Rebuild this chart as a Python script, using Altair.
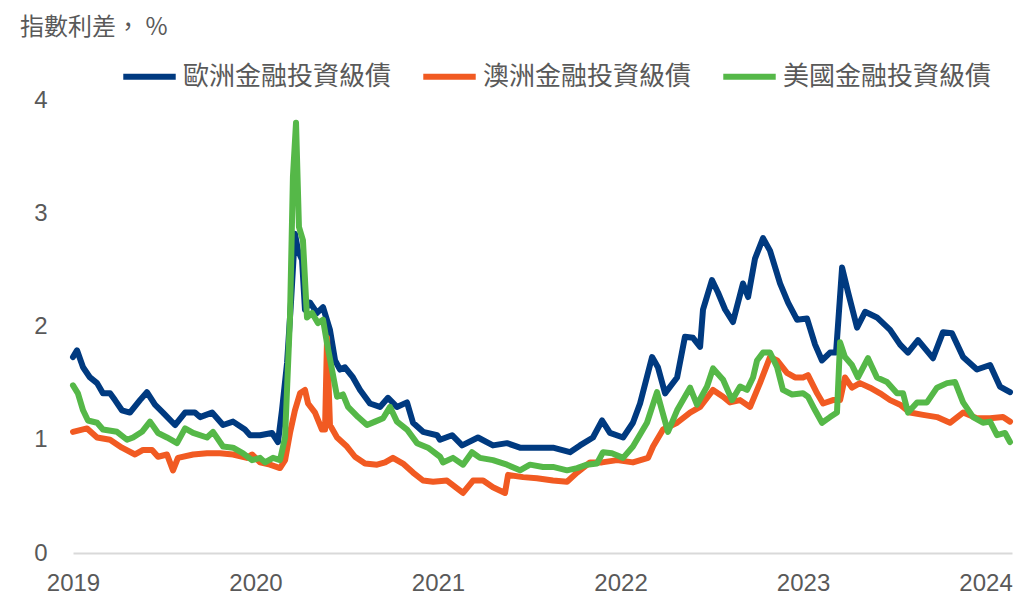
import altair as alt
import pandas as pd

# 歐洲金融投資級債 (decimal year, spread %)
eu_t = [2019.000, 2019.022, 2019.055, 2019.093, 2019.132, 2019.164, 2019.203, 2019.230, 2019.268, 2019.312,
        2019.367, 2019.405, 2019.449, 2019.493, 2019.559, 2019.614, 2019.668, 2019.696, 2019.762, 2019.822,
        2019.877, 2019.942, 2019.970, 2020.025, 2020.090, 2020.123, 2020.145, 2020.173, 2020.195, 2020.216,
        2020.233, 2020.255, 2020.271, 2020.299, 2020.337, 2020.370, 2020.408, 2020.436, 2020.463, 2020.490,
        2020.534, 2020.573, 2020.627, 2020.682, 2020.726, 2020.775, 2020.830, 2020.863, 2020.918, 2020.995,
        2021.011, 2021.077, 2021.132, 2021.219, 2021.301, 2021.378, 2021.449, 2021.542, 2021.630, 2021.723,
        2021.778, 2021.849, 2021.899, 2021.942, 2022.014, 2022.068, 2022.107, 2022.173, 2022.205, 2022.244,
        2022.310, 2022.353, 2022.397, 2022.436, 2022.452, 2022.501, 2022.534, 2022.573, 2022.616, 2022.671,
        2022.699, 2022.737, 2022.781, 2022.819, 2022.874, 2022.918, 2022.967, 2023.022, 2023.066, 2023.104,
        2023.148, 2023.181, 2023.214, 2023.247, 2023.274, 2023.296, 2023.340, 2023.405, 2023.477, 2023.532,
        2023.575, 2023.630, 2023.712, 2023.767, 2023.816, 2023.877, 2023.953, 2024.025, 2024.079, 2024.134]
eu_v = [1.73, 1.79, 1.64, 1.55, 1.50, 1.41, 1.41, 1.35, 1.26, 1.24,
        1.35, 1.42, 1.31, 1.24, 1.13, 1.24, 1.24, 1.20, 1.24, 1.13,
        1.16, 1.09, 1.04, 1.04, 1.06, 0.98, 1.26, 1.68, 2.23, 2.82,
        2.67, 2.59, 2.15, 2.21, 2.12, 2.17, 1.97, 1.70, 1.62, 1.64,
        1.55, 1.44, 1.32, 1.29, 1.37, 1.29, 1.33, 1.15, 1.07, 1.04,
        1.00, 1.04, 0.95, 1.02, 0.95, 0.97, 0.93, 0.93, 0.93, 0.89,
        0.95, 1.02, 1.17, 1.06, 1.02, 1.15, 1.32, 1.73, 1.64, 1.41,
        1.55, 1.91, 1.90, 1.82, 2.15, 2.41, 2.30, 2.15, 2.04, 2.38,
        2.26, 2.60, 2.78, 2.67, 2.38, 2.21, 2.06, 2.07, 1.84, 1.70,
        1.77, 1.77, 2.52, 2.30, 2.13, 1.99, 2.13, 2.08, 1.97, 1.84,
        1.77, 1.88, 1.72, 1.95, 1.94, 1.73, 1.62, 1.66, 1.47, 1.42]

# 澳洲金融投資級債
au_t = [2019.000, 2019.077, 2019.132, 2019.203, 2019.268, 2019.340, 2019.384, 2019.433, 2019.466, 2019.515,
        2019.548, 2019.575, 2019.658, 2019.734, 2019.805, 2019.877, 2019.953, 2019.981, 2020.025, 2020.079,
        2020.134, 2020.162, 2020.189, 2020.216, 2020.244, 2020.271, 2020.288, 2020.326, 2020.364, 2020.381,
        2020.392, 2020.408, 2020.447, 2020.501, 2020.545, 2020.600, 2020.666, 2020.710, 2020.753, 2020.808,
        2020.863, 2020.918, 2020.973, 2021.049, 2021.137, 2021.192, 2021.247, 2021.301, 2021.367, 2021.384,
        2021.466, 2021.542, 2021.630, 2021.707, 2021.762, 2021.833, 2021.899, 2021.981, 2022.068, 2022.151,
        2022.178, 2022.233, 2022.310, 2022.381, 2022.436, 2022.507, 2022.562, 2022.600, 2022.655, 2022.710,
        2022.764, 2022.819, 2022.858, 2022.912, 2022.956, 2023.000, 2023.027, 2023.077, 2023.110, 2023.164,
        2023.203, 2023.230, 2023.268, 2023.312, 2023.367, 2023.422, 2023.477, 2023.532, 2023.586, 2023.658,
        2023.734, 2023.805, 2023.877, 2023.953, 2024.025, 2024.096, 2024.134]
au_v = [1.07, 1.10, 1.02, 1.00, 0.93, 0.87, 0.91, 0.91, 0.85, 0.87,
        0.73, 0.84, 0.87, 0.88, 0.88, 0.87, 0.84, 0.87, 0.80, 0.78,
        0.75, 0.82, 1.06, 1.26, 1.41, 1.44, 1.32, 1.24, 1.09, 1.09,
        1.90, 1.13, 1.02, 0.94, 0.85, 0.79, 0.78, 0.80, 0.84, 0.79,
        0.71, 0.64, 0.63, 0.64, 0.53, 0.64, 0.64, 0.58, 0.53, 0.69,
        0.67, 0.66, 0.64, 0.63, 0.71, 0.80, 0.80, 0.82, 0.80, 0.84,
        0.94, 1.09, 1.15, 1.24, 1.29, 1.44, 1.38, 1.33, 1.35, 1.29,
        1.50, 1.73, 1.70, 1.59, 1.55, 1.55, 1.57, 1.41, 1.32, 1.35,
        1.35, 1.55, 1.46, 1.50, 1.46, 1.41, 1.35, 1.31, 1.24, 1.22,
        1.20, 1.15, 1.24, 1.19, 1.19, 1.20, 1.16]

# 美國金融投資級債
us_t = [2019.000, 2019.027, 2019.055, 2019.082, 2019.132, 2019.164, 2019.241, 2019.296, 2019.329, 2019.378,
        2019.422, 2019.466, 2019.515, 2019.570, 2019.614, 2019.658, 2019.734, 2019.767, 2019.822, 2019.877,
        2019.932, 2019.981, 2020.025, 2020.052, 2020.096, 2020.134, 2020.162, 2020.189, 2020.205, 2020.222,
        2020.238, 2020.260, 2020.282, 2020.310, 2020.342, 2020.370, 2020.392, 2020.419, 2020.447, 2020.479,
        2020.507, 2020.562, 2020.611, 2020.655, 2020.699, 2020.737, 2020.775, 2020.830, 2020.885, 2020.945,
        2021.011, 2021.027, 2021.082, 2021.137, 2021.186, 2021.230, 2021.301, 2021.378, 2021.449, 2021.504,
        2021.575, 2021.630, 2021.707, 2021.762, 2021.816, 2021.871, 2021.904, 2021.953, 2022.014, 2022.068,
        2022.145, 2022.200, 2022.227, 2022.260, 2022.310, 2022.381, 2022.419, 2022.474, 2022.507, 2022.562,
        2022.611, 2022.655, 2022.693, 2022.726, 2022.748, 2022.781, 2022.819, 2022.858, 2022.890, 2022.940,
        2023.000, 2023.027, 2023.066, 2023.104, 2023.148, 2023.186, 2023.203, 2023.230, 2023.268, 2023.301,
        2023.356, 2023.405, 2023.460, 2023.515, 2023.548, 2023.575, 2023.625, 2023.679, 2023.734, 2023.789,
        2023.833, 2023.877, 2023.932, 2023.986, 2024.025, 2024.063, 2024.107, 2024.134]
us_v = [1.48, 1.41, 1.26, 1.17, 1.15, 1.09, 1.07, 1.00, 1.02, 1.07,
        1.16, 1.06, 1.02, 0.97, 1.10, 1.06, 1.02, 1.07, 0.94, 0.93,
        0.88, 0.82, 0.84, 0.80, 0.84, 0.82, 1.02, 2.08, 3.32, 3.80,
        2.88, 2.76, 2.08, 2.12, 2.03, 2.06, 1.85, 1.62, 1.38, 1.40,
        1.29, 1.20, 1.13, 1.16, 1.19, 1.29, 1.16, 1.09, 0.97, 0.93,
        0.85, 0.80, 0.84, 0.78, 0.89, 0.84, 0.82, 0.78, 0.73, 0.78,
        0.76, 0.76, 0.73, 0.75, 0.78, 0.79, 0.89, 0.88, 0.84, 0.94,
        1.15, 1.42, 1.26, 1.07, 1.26, 1.46, 1.31, 1.47, 1.63, 1.53,
        1.35, 1.47, 1.44, 1.55, 1.70, 1.77, 1.77, 1.64, 1.44, 1.40,
        1.41, 1.38, 1.26, 1.15, 1.20, 1.24, 1.86, 1.73, 1.66, 1.55,
        1.72, 1.55, 1.51, 1.41, 1.41, 1.24, 1.33, 1.33, 1.46, 1.50,
        1.51, 1.33, 1.20, 1.15, 1.16, 1.04, 1.06, 0.98]

names = ["歐洲金融投資級債", "澳洲金融投資級債", "美國金融投資級債"]
colors = ["#003A80", "#F15A22", "#55B848"]
year_ticks = [2019, 2020, 2021, 2022, 2023, 2024]
y_ticks = [0, 1, 2, 3, 4]

rows = []
for i, (name, ts, vs) in enumerate(zip(names, [eu_t, au_t, us_t], [eu_v, au_v, us_v])):
    for t, v in zip(ts, vs):
        rows.append({"series": name, "idx": i, "t": t, "v": v})
df = pd.DataFrame(rows)

label_color = "#595959"

chart = alt.Chart(df).mark_line(
    strokeWidth=6, strokeCap="round", strokeJoin="round"
).encode(
    x=alt.X("t:Q",
            scale=alt.Scale(domain=[2019, 2024.145], nice=False, zero=False),
            axis=alt.Axis(values=year_ticks, format="d", title=None, ticks=False, grid=False,
                          domainColor="#d9d9d9", domainWidth=2,
                          labelFont="Liberation Sans", labelFontSize=24, labelColor=label_color,
                          labelPadding=18, labelFlush=False)),
    y=alt.Y("v:Q",
            scale=alt.Scale(domain=[0, 4], nice=False),
            axis=alt.Axis(values=y_ticks, title=None, ticks=False, grid=False, domain=False,
                          labelFont="Liberation Sans", labelFontSize=24, labelColor=label_color,
                          labelPadding=26)),
    color=alt.Color("series:N",
                    scale=alt.Scale(domain=names, range=colors),
                    legend=alt.Legend(orient="none", legendX=47, legendY=-53,
                                      direction="horizontal", title=None,
                                      symbolType="stroke", symbolSize=2750, symbolStrokeWidth=6,
                                      labelFont="Noto Sans CJK TC", labelFontSize=26,
                                      labelColor=label_color, labelOffset=4, labelLimit=400,
                                      columnPadding=19)),
    detail="idx:O",
).properties(
    width=939,
    height=453,
    title=alt.TitleParams("指數利差， %", anchor="start", frame="group", dx=-53, offset=7,
                          font="Noto Sans CJK TC", fontSize=24, fontWeight="normal",
                          color=label_color),
    autosize=alt.AutoSizeParams(type="none"),
    padding={"left": 73, "top": 100, "right": 6, "bottom": 44},
).configure_view(stroke=None)

chart.save("out.html", embed_options={"renderer": "svg", "actions": False})
